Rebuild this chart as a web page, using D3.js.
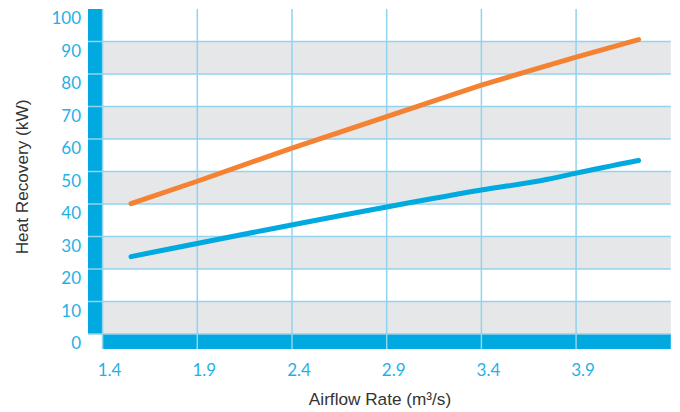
<!DOCTYPE html>
<html><head><meta charset="utf-8">
<script src="https://cdn.jsdelivr.net/npm/d3@7"></script>
<style>body{margin:0;background:#fff}svg{display:block}</style>
</head><body>
<svg id="c" width="680" height="412"></svg>
<script>
const xTicks = [1.4, 1.9, 2.4, 2.9, 3.4, 3.9];
const yTicks = [0, 10, 20, 30, 40, 50, 60, 70, 80, 90, 100];
const orangeX = [1.55, 1.9, 2.4, 2.9, 3.4, 3.9, 4.23];
const orangeY = [40.1, 47.0, 57.2, 66.9, 76.6, 85.2, 90.6];
const blueX = [1.55, 2.9, 3.4, 3.75, 3.9, 4.23];
const blueY = [23.8, 39.1, 44.3, 47.6, 49.5, 53.4];
const xTitle = "Airflow Rate (m³/s)";
const yTitle = "Heat Recovery (kW)";

const svg = d3.select("#c");
const x = d3.scaleLinear().domain([1.4, 4.4]).range([102.6, 670.8]);
const y = d3.scaleLinear().domain([0, 100]).range([334, 9]);
const blue = "#00a9df", orange = "#f58233", grid = "#92d3ef", band = "#e6e7e8", label = "#1fb1e6";

// bands
const bands = d3.range(0, 100, 20);
svg.append("g").selectAll("rect").data(bands).join("rect")
  .attr("x", x(1.4)).attr("width", x(4.4) - x(1.4))
  .attr("y", d => y(d + 10)).attr("height", d => y(d) - y(d + 10))
  .attr("fill", band);

// axis bars
svg.append("rect").attr("x", 88).attr("y", y(100)).attr("width", x(1.4) - 88).attr("height", y(0) - y(100)).attr("fill", blue);
svg.append("rect").attr("x", x(1.4)).attr("y", y(0)).attr("width", x(4.4) - x(1.4)).attr("height", 15).attr("fill", blue);

// gridlines
svg.append("g").selectAll("line").data(yTicks.filter(d => d < 100)).join("line")
  .attr("x1", 88).attr("x2", x(4.4)).attr("y1", d => y(d)).attr("y2", d => y(d))
  .attr("stroke", grid).attr("stroke-width", 1.5);
svg.append("g").selectAll("line").data(xTicks).join("line")
  .attr("x1", d => x(d)).attr("x2", d => x(d)).attr("y1", y(100)).attr("y2", y(0) + 15)
  .attr("stroke", grid).attr("stroke-width", 1.5);

// tick labels
svg.append("g").selectAll("text").data(yTicks).join("text")
  .attr("x", 81).attr("y", d => y(d) + 15).attr("text-anchor", "end")
  .attr("font-family", "Lato, sans-serif").attr("font-size", 17).attr("fill", label)
  .text(d => d);
svg.append("g").selectAll("text").data(xTicks).join("text")
  .attr("x", d => x(d) + 7).attr("y", 376).attr("text-anchor", "middle")
  .attr("font-family", "Lato, sans-serif").attr("font-size", 17).attr("fill", label)
  .text(d => d.toFixed(1));

// titles
svg.append("text").attr("x", 380).attr("y", 405).attr("text-anchor", "middle")
  .attr("font-family", "'Liberation Sans', Arial, sans-serif").attr("font-size", 17.2).attr("fill", "#333")
  .text(xTitle);
svg.append("text").attr("transform", "translate(28,177) rotate(-90)").attr("text-anchor", "middle")
  .attr("font-family", "'Liberation Sans', Arial, sans-serif").attr("font-size", 17.2).attr("fill", "#333")
  .text(yTitle);

// lines
const line = d3.line().x(d => x(d[0])).y(d => y(d[1]));
const smooth = d3.line().curve(d3.curveMonotoneX).x(d => x(d[0])).y(d => y(d[1]));
svg.append("path").datum(orangeX.map((v, i) => [v, orangeY[i]])).attr("d", line)
  .attr("fill", "none").attr("stroke", orange).attr("stroke-width", 5).attr("stroke-linecap", "round").attr("stroke-linejoin", "round");
svg.append("path").datum(blueX.map((v, i) => [v, blueY[i]])).attr("d", smooth)
  .attr("fill", "none").attr("stroke", blue).attr("stroke-width", 5).attr("stroke-linecap", "round").attr("stroke-linejoin", "round");
</script>
</body></html>
